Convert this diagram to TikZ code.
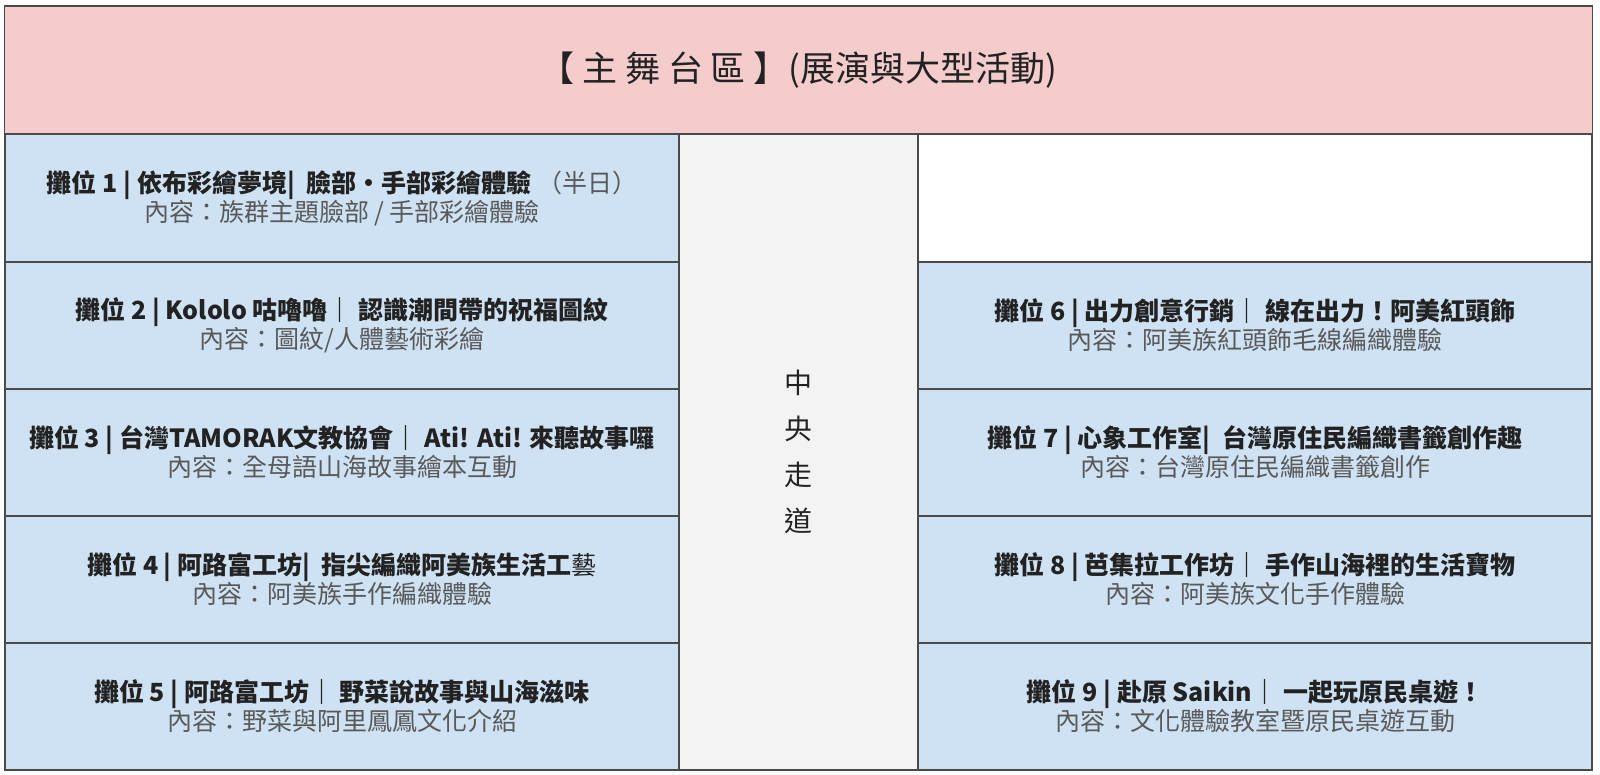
\documentclass[tikz,border=0pt]{standalone}
\usepackage{fontspec}
\setmainfont{Noto Sans CJK TC}
\usetikzlibrary{positioning}
\definecolor{ink}{HTML}{222222}
\definecolor{greyTxt}{HTML}{595959}
\definecolor{edgeC}{HTML}{4A4A4A}
\definecolor{stageC}{HTML}{F4CCCC}
\definecolor{boothC}{HTML}{CFE2F3}
\definecolor{aisleC}{HTML}{F3F3F3}
\tikzset{
  zone/.style={draw=edgeC,line width=1.3pt,inner sep=0pt,outer sep=0pt,align=center,text=ink},
  stagebox/.style={zone,fill=stageC,minimum width=1588pt,minimum height=128pt,font=\fontsize{35}{40}\selectfont},
  booth/.style={zone,fill=boothC,minimum width=674pt,minimum height=127pt,font=\fontsize{25}{29}\selectfont},
  aislebox/.style={zone,fill=aisleC,minimum width=239pt,minimum height=636pt,font=\fontsize{28}{46}\selectfont},
  emptybox/.style={zone,fill=white,minimum width=674pt,minimum height=128pt}}
\newcommand{\boothtxt}[2]{\textbf{#1}\\{\color{greyTxt}#2}}

\begin{document}
\begin{tikzpicture}[x=1pt,y=-1pt]
\useasboundingbox (0,0) rectangle (1600,775);
% stage
\node[stagebox] (stage) at (798.5,70) {【\ 主\ 舞\ 台\ 區\ 】(展演與大型活動)};
% left column
\node[booth] (b1) at (342,198) {\boothtxt{攤位 1 | 依布彩繪夢境|\ \ 臉部・手部彩繪體驗 {\mdseries\color{greyTxt}（半日）}}{內容：族群主題臉部 / 手部彩繪體驗}};
\node[booth] (b2) at (342,325.5) {\boothtxt{攤位 2 | Kololo 咕嚕嚕｜ 認識潮間帶的祝福圖紋}{內容：圖紋/人體藝術彩繪}};
\node[booth] (b3) at (342,452.5) {\boothtxt{攤位 3 | 台灣TAMORAK文教協會｜ Ati! Ati! 來聽故事囉}{內容：全母語山海故事繪本互動}};
\node[booth] (b4) at (342,579.5) {\boothtxt{攤位 4 | 阿路富工坊|\ \ 指尖編織阿美族生活工{\mdseries 藝}}{內容：阿美族手作編織體驗}};
\node[booth] (b5) at (342,706.5) {\boothtxt{攤位 5 | 阿路富工坊｜ 野菜說故事與山海滋味}{內容：野菜與阿里鳳鳳文化介紹}};
% aisle
\node[aislebox] (aisle) at (798.5,452) {中\\央\\走\\道};
% right column
\node[emptybox] (blank) at (1255,198) {};
\node[booth] (b6) at (1255,325.5) {\boothtxt{攤位 6 | 出力創意行銷｜ 線在出力！阿美紅頭飾}{內容：阿美族紅頭飾毛線編織體驗}};
\node[booth] (b7) at (1255,452.5) {\boothtxt{攤位 7 | 心象工作室|\ \ 台灣原住民編織書籤創作趣}{內容：台灣原住民編織書籤創作}};
\node[booth] (b8) at (1255,579.5) {\boothtxt{攤位 8 | 芭集拉工作坊｜ 手作山海裡的生活寶物}{內容：阿美族文化手作體驗}};
\node[booth] (b9) at (1255,706.5) {\boothtxt{攤位 9 | 赴原 Saikin｜ 一起玩原民桌遊！}{內容：文化體驗教室暨原民桌遊互動}};
\end{tikzpicture}
\end{document}
